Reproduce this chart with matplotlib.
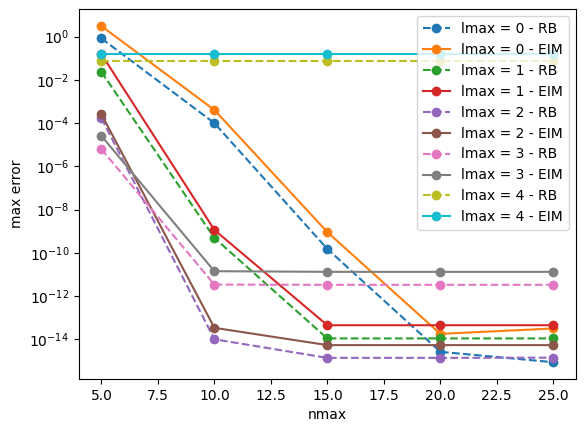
import numpy as np
import matplotlib.pyplot as plt

nmax = [5, 10, 15, 20, 25]

# log10 of max error
rb0 = [-0.08, -4.0, -9.82, -14.58, -15.06]
eim0 = [0.49, -3.39, -9.04, -13.75, -13.5]
rb1 = [-1.63, -9.31, -13.96, -13.96, -13.96]
eim1 = [-0.81, -8.94, -13.35, -13.35, -13.35]
rb2 = [-3.77, -14.0, -14.86, -14.86, -14.85]
eim2 = [-3.59, -13.47, -14.27, -14.27, -14.27]
rb3 = [-5.2, -11.47, -11.48, -11.48, -11.48]
eim3 = [-4.59, -10.85, -10.88, -10.88, -10.88]
rb4 = [-1.12, -1.12, -1.12, -1.12, -1.12]
eim4 = [-0.82, -0.82, -0.82, -0.82, -0.82]

series = [rb0, eim0, rb1, eim1, rb2, eim2, rb3, eim3, rb4, eim4]

fig = plt.figure(figsize=(5.84, 4.32), dpi=100)
ax = plt.subplot()
fig.subplots_adjust(left=0.135, right=0.986, top=0.9785, bottom=0.1227)

for i, s in enumerate(series):
    lmax = i // 2
    kind = 'RB' if i % 2 == 0 else 'EIM'
    ls = '--' if kind == 'RB' else '-'
    ax.plot(nmax, 10.0 ** np.array(s), marker='o', linestyle=ls,
            label='lmax = %d - %s' % (lmax, kind))

ax.set_yscale('log')
ax.set_xlabel('nmax')
ax.set_ylabel('max error')
ax.legend(loc='upper right')

fig.savefig('out.png')
